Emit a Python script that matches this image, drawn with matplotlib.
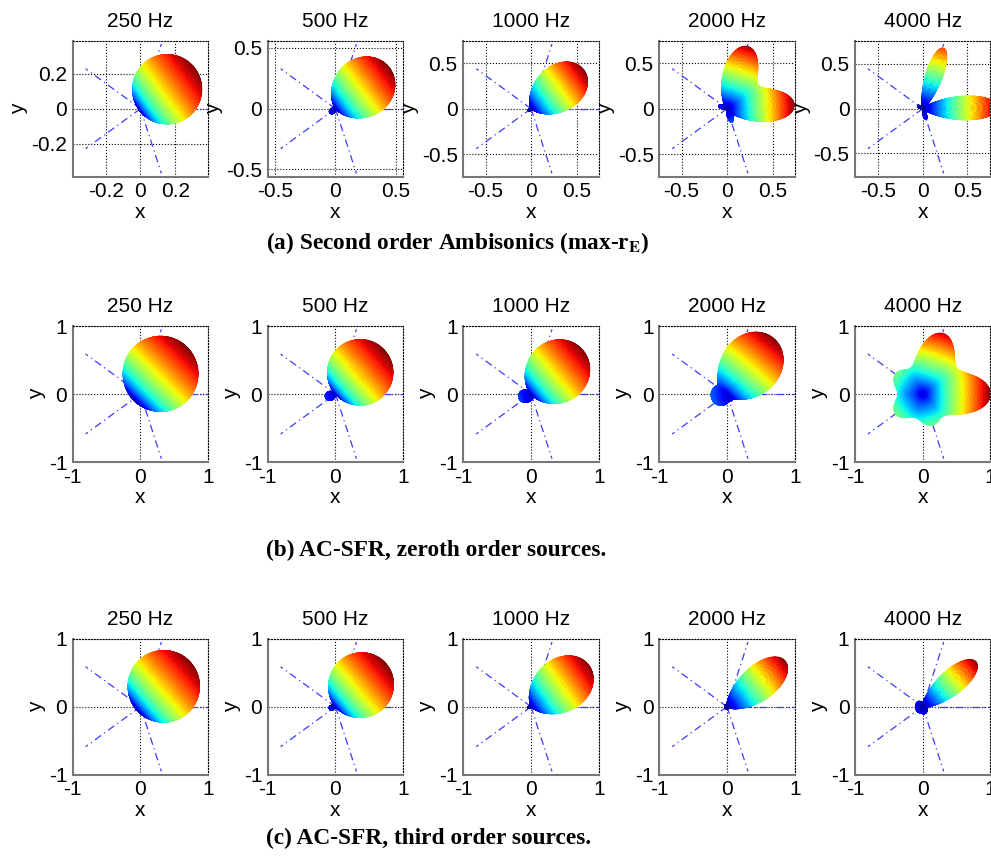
import numpy as np
import matplotlib
matplotlib.use('Agg')
import matplotlib.pyplot as plt
from matplotlib.collections import PolyCollection

plt.rcParams['font.family'] = ['Liberation Sans', 'DejaVu Sans']
plt.rcParams['mathtext.fontset'] = 'stix'

freq_labels = ['250 Hz', '500 Hz', '1000 Hz', '2000 Hz', '4000 Hz']
speaker_az = [0, 72, 144, -144, -72]
captions = ['(a) Second order Ambisonics (max-$\\mathbf{r}_\\mathbf{E}$)',
            '(b) AC-SFR, zeroth order sources.',
            '(c) AC-SFR, third order sources.']

# half range of each axis
lims_a = [0.39, 0.56, 0.745, 0.745, 0.76]
lims_b = [1, 1, 1, 1, 1]
lims_c = [1, 1, 1, 1, 1]
ticks_a = [[-0.2, 0, 0.2], [-0.5, 0, 0.5], [-0.5, 0, 0.5], [-0.5, 0, 0.5], [-0.5, 0, 0.5]]
ticks_bc = [-1, 0, 1]

# balloon pieces: (kind, azimuth deg, a, b)
#   lobe: a * max(cos g, 0)**b ; ball: offset sphere d=a, R=b ; ring: a * cos(el)**b
balloon_a = [
    [('ball', 36, 0.19, 0.20)],
    [('lobe', 37, 0.56, 1.5), ('lobe', 216, 0.06, 2)],
    [('lobe', 36, 0.72, 2.5), ('lobe', 216, 0.04, 2)],
    [('lobe', 71, 0.72, 6), ('lobe', 3, 0.74, 7), ('lobe', 160, 0.10, 6), ('lobe', -70, 0.16, 10)],
    [('lobe', 71, 0.72, 20), ('lobe', 1, 0.85, 14), ('lobe', 150, 0.07, 6), ('lobe', -72, 0.13, 12)],
]
balloon_b = [
    [('ball', 45, 0.42, 0.555)],
    [('lobe', 41, 0.97, 1.0), ('lobe', 200, 0.16, 1.5)],
    [('lobe', 40, 1.0, 1.3), ('lobe', 185, 0.18, 2), ('lobe', 260, 0.10, 2)],
    [('lobe', 50, 0.95, 2.0), ('ring', 0, 0.12, 1), ('lobe', 190, 0.12, 1)],
    [('ring', 0, 0.26, 1), ('lobe', 0, 0.74, 6), ('lobe', 71, 0.68, 7),
     ('lobe', 144, 0.24, 7), ('lobe', -144, 0.24, 7), ('lobe', -72, 0.22, 7)],
]
balloon_c = [
    [('ball', 41, 0.457, 0.53)],
    [('lobe', 40, 0.98, 1.1), ('lobe', 195, 0.10, 2)],
    [('lobe', 35, 1.05, 2.2), ('lobe', 200, 0.05, 2)],
    [('lobe', 40, 1.0, 8), ('lobe', 10, 0.20, 10), ('ring', 0, 0.04, 1)],
    [('lobe', 40, 0.97, 12), ('ring', 0, 0.06, 1), ('lobe', 144, 0.05, 4),
     ('lobe', -144, 0.05, 4), ('lobe', -72, 0.05, 4)],
]

W, H = 991, 858
col_left = [72.7, 267.7, 463.3, 659.3, 855]
row_top = [40.7, 326, 638.7]
ax_w, ax_h = 135.5, 136
caption_y = [243, 550, 838]


def balloon_polys(comps):
    az = np.radians(np.linspace(-180, 180, 181))
    el = np.radians(np.linspace(0, 90, 46))
    A, E = np.meshgrid(az, el)
    ux = np.cos(E) * np.cos(A)
    uy = np.cos(E) * np.sin(A)
    uz = np.sin(E)
    r = np.zeros_like(A)
    for kind, phi, a, b in comps:
        p = np.radians(phi)
        c = ux * np.cos(p) + uy * np.sin(p)
        if kind == 'lobe':
            r += a * np.clip(c, 0, None) ** b
        elif kind == 'ball':
            r += a * c + np.sqrt(b ** 2 - a ** 2 * (1 - c ** 2))
        else:
            r += a * np.cos(E) ** b
    X, Y, Z = r * ux, r * uy, r * uz
    corners = [(slice(None, -1), slice(None, -1)), (slice(None, -1), slice(1, None)),
               (slice(1, None), slice(1, None)), (slice(1, None), slice(None, -1))]
    verts = np.stack([np.stack([X[i, j], Y[i, j]], -1) for i, j in corners], axis=2)
    zc = np.mean([Z[i, j] for i, j in corners], axis=0)
    rc = np.mean([r[i, j] for i, j in corners], axis=0)
    verts = verts.reshape(-1, 4, 2)
    order = np.argsort(zc.ravel())
    return verts[order], rc.ravel()[order], r.min(), r.max()


def draw_panel(ax, comps, lim, ticks, title):
    for a in speaker_az:
        t = np.radians(a)
        ax.plot([0, lim * np.cos(t)], [0, lim * np.sin(t)], color='#3b3bff', lw=0.9,
                ls=(0, (6, 3, 1, 3)), zorder=1.5)
    verts, rc, rmin, rmax = balloon_polys(comps)
    cols = plt.cm.jet((rc - rmin) / (rmax - rmin))
    pc = PolyCollection(verts, facecolors=cols, edgecolors=cols, linewidths=0.4, zorder=2)
    ax.add_collection(pc)
    ax.set_xlim(-lim, lim)
    ax.set_ylim(-lim, lim)
    ax.set_xticks(ticks)
    ax.set_yticks(ticks)
    ax.set_xticklabels([f'{v:g}' for v in ticks])
    ax.set_yticklabels([f'{v:g}' for v in ticks])
    ax.set_axisbelow(True)
    ax.grid(True, ls=':', color='k', lw=0.8)
    ax.tick_params(length=0, labelsize=15, pad=4)
    for s in ['left', 'bottom']:
        ax.spines[s].set_color('#777777')
        ax.spines[s].set_linewidth(1.5)
    for s in ['top', 'right']:
        ax.spines[s].set_linestyle(':')
        ax.spines[s].set_linewidth(0.8)
    ax.set_xlabel('x', fontsize=15, labelpad=1)
    ax.set_ylabel('y', fontsize=15, labelpad=2)
    ax.set_title(title, fontsize=15, pad=10)


fig = plt.figure(figsize=(W / 100, H / 100), dpi=100)
rows = [(balloon_a, lims_a), (balloon_b, lims_b), (balloon_c, lims_c)]
for ri, (balloons, lims) in enumerate(rows):
    for ci in range(5):
        ax = fig.add_axes([col_left[ci] / W, 1 - (row_top[ri] + ax_h) / H, ax_w / W, ax_h / H])
        ticks = ticks_a[ci] if ri == 0 else ticks_bc
        draw_panel(ax, balloons[ci], lims[ci], ticks, freq_labels[ci])
    fig.text(266 / W, 1 - caption_y[ri] / H, captions[ri], fontsize=16.8, fontweight='bold',
             family='Liberation Serif', va='center', ha='left')

fig.savefig('out.png', dpi=100)
